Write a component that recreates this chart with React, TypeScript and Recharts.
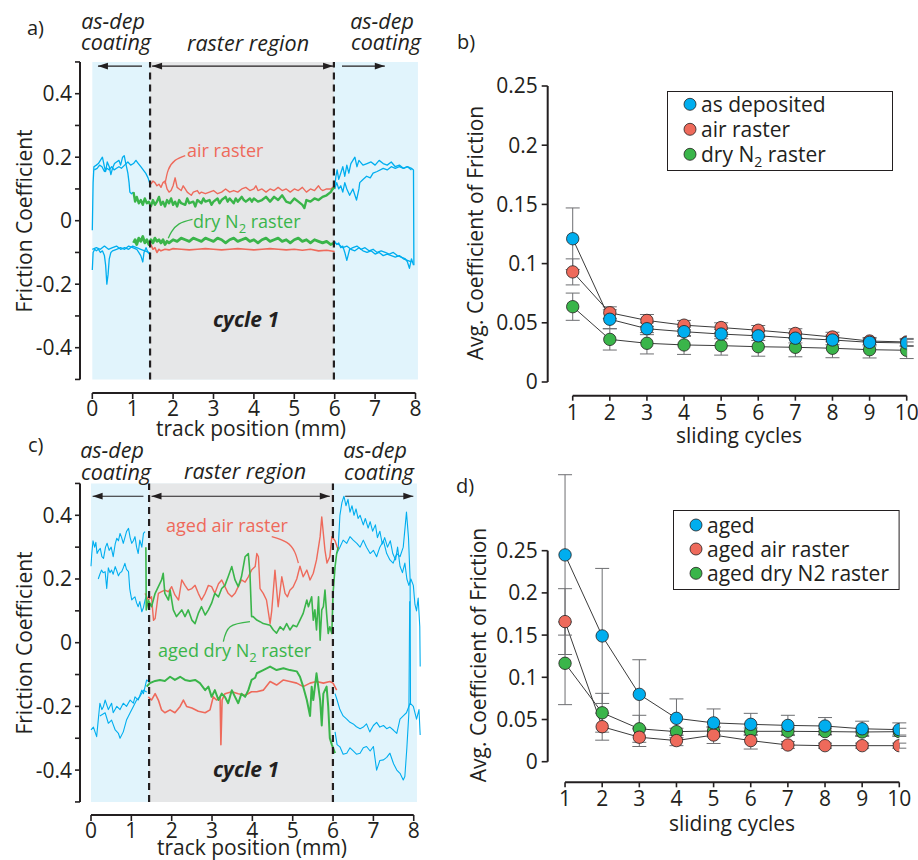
import React from 'react';
import { ComposedChart, Line, XAxis, YAxis, ReferenceArea, ReferenceLine, ErrorBar, Legend } from 'recharts';

const FONT = '"Open Sans", "Noto Sans", sans-serif';
const INK = '#231f20';
const C_BLUE = '#00aeef';
const C_RED = '#ee6a5b';
const C_GREEN = '#3ab54a';
const FILL_BLUE = '#e1f4fc';
const FILL_GRAY = '#e6e7e8';

type Pt = number[];
const toXY = (a: Pt[]) => a.map(([x, y]) => ({ x, y }));

// ---------------- panel a: friction traces ----------------
const aBlueTopL1: Pt[] = [[0,-0.03],[0.02,0.12],[0.04,0.17],[0.1,0.175],[0.15,0.18],[0.2,0.19],[0.25,0.2],[0.3,0.17],[0.33,0.155],[0.37,0.185],[0.42,0.17],[0.46,0.145],[0.5,0.165],[0.55,0.18],[0.6,0.185],[0.66,0.19],[0.7,0.175],[0.75,0.2],[0.79,0.205],[0.83,0.18],[0.88,0.15],[0.91,0.12],[0.93,0.09],[0.97,0.085],[1.02,0.09]];
const aBlueTopL2: Pt[] = [[0.05,0.16],[0.12,0.165],[0.18,0.175],[0.24,0.17],[0.3,0.155],[0.36,0.165],[0.42,0.16],[0.48,0.17],[0.54,0.16],[0.6,0.165],[0.66,0.17],[0.72,0.165],[0.8,0.175],[0.88,0.185],[0.95,0.175],[1.02,0.18],[1.08,0.19],[1.14,0.18],[1.2,0.17],[1.26,0.16],[1.32,0.15],[1.38,0.135],[1.43,0.115]];
const aBlueTopR1: Pt[] = [[6.0,0.105],[6.03,0.14],[6.06,0.16],[6.1,0.13],[6.15,0.15],[6.2,0.17],[6.25,0.14],[6.3,0.175],[6.35,0.15],[6.4,0.18],[6.45,0.19],[6.5,0.2],[6.55,0.17],[6.6,0.19],[6.7,0.175],[6.8,0.18],[6.9,0.185],[7.0,0.175],[7.1,0.19],[7.2,0.18],[7.3,0.175],[7.4,0.185],[7.5,0.17],[7.6,0.175],[7.7,0.165],[7.8,0.17],[7.9,0.165],[7.95,0.16],[7.96,-0.14]];
const aBlueTopR2: Pt[] = [[6.0,0.1],[6.05,0.12],[6.1,0.1],[6.15,0.11],[6.2,0.09],[6.25,0.12],[6.3,0.1],[6.37,0.08],[6.45,0.1],[6.54,0.065],[6.6,0.1],[6.62,0.12],[6.7,0.13],[6.79,0.14],[6.88,0.135],[6.95,0.15],[7.05,0.155],[7.2,0.165],[7.3,0.16],[7.4,0.17],[7.5,0.165],[7.6,0.17],[7.7,0.165],[7.8,0.17],[7.9,0.16]];
const aBlueBotL1: Pt[] = [[0,-0.155],[0.02,-0.1],[0.06,-0.09],[0.1,-0.095],[0.15,-0.09],[0.2,-0.1],[0.25,-0.095],[0.3,-0.11],[0.33,-0.14],[0.36,-0.2],[0.39,-0.17],[0.42,-0.12],[0.46,-0.1],[0.5,-0.095],[0.6,-0.09],[0.7,-0.085],[0.8,-0.09],[0.9,-0.08],[1.0,-0.085],[1.1,-0.09],[1.15,-0.1],[1.2,-0.11],[1.25,-0.13],[1.28,-0.1],[1.33,-0.085],[1.38,-0.1],[1.45,-0.11]];
const aBlueBotL2: Pt[] = [[0,-0.09],[0.1,-0.085],[0.2,-0.09],[0.3,-0.08],[0.4,-0.09],[0.5,-0.085],[0.6,-0.08],[0.7,-0.09],[0.8,-0.085],[0.9,-0.09],[1.0,-0.08],[1.1,-0.085],[1.2,-0.09],[1.3,-0.095],[1.4,-0.1],[1.45,-0.105]];
const aBlueBotR1: Pt[] = [[6.0,-0.065],[6.05,-0.075],[6.1,-0.07],[6.15,-0.085],[6.2,-0.08],[6.25,-0.1],[6.3,-0.125],[6.33,-0.11],[6.37,-0.09],[6.45,-0.085],[6.55,-0.08],[6.65,-0.09],[6.75,-0.085],[6.85,-0.095],[6.95,-0.09],[7.05,-0.1],[7.15,-0.095],[7.25,-0.1],[7.35,-0.105],[7.45,-0.1],[7.55,-0.11],[7.65,-0.115],[7.75,-0.12],[7.8,-0.13],[7.85,-0.15],[7.9,-0.12],[7.95,-0.14]];
const aBlueBotR2: Pt[] = [[6.0,-0.07],[6.1,-0.075],[6.2,-0.085],[6.3,-0.08],[6.4,-0.09],[6.5,-0.095],[6.6,-0.085],[6.7,-0.095],[6.8,-0.1],[6.9,-0.095],[7.0,-0.105],[7.1,-0.1],[7.2,-0.11],[7.3,-0.105],[7.4,-0.11],[7.5,-0.115],[7.6,-0.11],[7.7,-0.12],[7.8,-0.125],[7.9,-0.13]];
const aRedTop: Pt[] = [[1.45,0.115],[1.5,0.125],[1.55,0.12],[1.6,0.11],[1.65,0.115],[1.7,0.105],[1.75,0.12],[1.8,0.125],[1.85,0.1],[1.9,0.09],[1.95,0.095],[2.0,0.11],[2.05,0.135],[2.1,0.105],[2.15,0.1],[2.2,0.095],[2.25,0.11],[2.3,0.1],[2.35,0.09],[2.4,0.085],[2.45,0.08],[2.5,0.09],[2.6,0.095],[2.65,0.085],[2.7,0.09],[2.8,0.085],[2.9,0.09],[3.0,0.095],[3.1,0.085],[3.2,0.09],[3.3,0.1],[3.4,0.09],[3.5,0.095],[3.6,0.09],[3.7,0.1],[3.8,0.105],[3.9,0.095],[4.0,0.1],[4.05,0.11],[4.1,0.095],[4.2,0.1],[4.3,0.09],[4.4,0.1],[4.5,0.095],[4.6,0.105],[4.7,0.095],[4.8,0.1],[4.9,0.09],[5.0,0.1],[5.1,0.095],[5.2,0.105],[5.3,0.09],[5.4,0.1],[5.5,0.095],[5.6,0.11],[5.65,0.1],[5.7,0.095],[5.8,0.1],[5.9,0.1],[6.0,0.11]];
const aRedBot: Pt[] = [[1.45,-0.075],[1.5,-0.09],[1.55,-0.085],[1.6,-0.1],[1.65,-0.09],[1.7,-0.095],[1.8,-0.09],[1.9,-0.092],[2.0,-0.088],[2.2,-0.09],[2.4,-0.092],[2.6,-0.09],[2.8,-0.088],[3.0,-0.09],[3.2,-0.092],[3.4,-0.09],[3.6,-0.088],[3.8,-0.09],[4.0,-0.092],[4.2,-0.09],[4.4,-0.088],[4.6,-0.09],[4.8,-0.092],[5.0,-0.09],[5.2,-0.093],[5.4,-0.09],[5.6,-0.095],[5.8,-0.093],[6.0,-0.097]];
const aGreenTop: Pt[] = [[1.02,0.09],[1.06,0.06],[1.1,0.075],[1.15,0.055],[1.2,0.065],[1.25,0.05],[1.3,0.07],[1.35,0.055],[1.4,0.06],[1.45,0.045],[1.5,0.065],[1.55,0.05],[1.6,0.06],[1.65,0.075],[1.7,0.05],[1.75,0.06],[1.8,0.045],[1.85,0.065],[1.9,0.055],[1.95,0.07],[2.0,0.05],[2.05,0.06],[2.1,0.045],[2.15,0.065],[2.2,0.055],[2.3,0.05],[2.35,0.07],[2.4,0.055],[2.5,0.06],[2.55,0.045],[2.6,0.065],[2.7,0.055],[2.75,0.07],[2.8,0.06],[2.9,0.065],[2.95,0.05],[3.0,0.06],[3.1,0.07],[3.15,0.055],[3.2,0.065],[3.3,0.075],[3.35,0.06],[3.4,0.07],[3.5,0.055],[3.55,0.07],[3.6,0.06],[3.7,0.075],[3.75,0.065],[3.8,0.06],[3.9,0.07],[3.95,0.06],[4.0,0.07],[4.1,0.06],[4.2,0.065],[4.3,0.075],[4.4,0.06],[4.5,0.075],[4.6,0.065],[4.7,0.08],[4.8,0.06],[4.9,0.055],[5.0,0.07],[5.1,0.06],[5.2,0.05],[5.25,0.04],[5.3,0.065],[5.4,0.06],[5.5,0.07],[5.6,0.065],[5.7,0.075],[5.8,0.08],[5.9,0.09],[5.95,0.1],[6.0,0.105]];
const aGreenBot: Pt[] = [[1.02,-0.07],[1.06,-0.06],[1.1,-0.075],[1.15,-0.055],[1.2,-0.065],[1.25,-0.05],[1.3,-0.07],[1.35,-0.06],[1.4,-0.075],[1.45,-0.06],[1.5,-0.07],[1.55,-0.055],[1.6,-0.065],[1.65,-0.06],[1.7,-0.07],[1.75,-0.06],[1.8,-0.075],[1.85,-0.065],[1.9,-0.07],[2.0,-0.06],[2.1,-0.065],[2.2,-0.055],[2.3,-0.06],[2.4,-0.065],[2.5,-0.055],[2.6,-0.06],[2.7,-0.065],[2.8,-0.055],[2.9,-0.06],[3.0,-0.065],[3.1,-0.055],[3.2,-0.06],[3.3,-0.07],[3.4,-0.06],[3.5,-0.055],[3.6,-0.065],[3.7,-0.06],[3.8,-0.055],[3.9,-0.065],[4.0,-0.06],[4.1,-0.07],[4.2,-0.06],[4.3,-0.055],[4.4,-0.065],[4.5,-0.06],[4.6,-0.055],[4.7,-0.065],[4.8,-0.06],[4.9,-0.07],[5.0,-0.06],[5.1,-0.055],[5.2,-0.065],[5.3,-0.06],[5.4,-0.07],[5.5,-0.06],[5.6,-0.065],[5.7,-0.07],[5.8,-0.065],[5.9,-0.075],[6.0,-0.07]];
const aAirLeader: Pt[] = [[2.3,0.205],[2.05,0.19],[1.88,0.16],[1.8,0.115]];
const aN2Leader: Pt[] = [[2.48,0.004],[2.15,-0.01],[1.96,-0.035],[1.88,-0.055]];

// ---------------- panel c: aged friction traces ----------------
const cBlueTopL1: Pt[] = [[0,0.24],[0.02,0.28],[0.05,0.32],[0.09,0.3],[0.12,0.315],[0.15,0.28],[0.19,0.29],[0.23,0.296],[0.27,0.27],[0.31,0.265],[0.36,0.3],[0.4,0.312],[0.45,0.29],[0.5,0.3],[0.55,0.27],[0.6,0.31],[0.64,0.328],[0.68,0.32],[0.72,0.343],[0.76,0.33],[0.8,0.312],[0.84,0.33],[0.88,0.349],[0.93,0.359],[0.97,0.33],[1.01,0.312],[1.05,0.32],[1.09,0.333],[1.13,0.3],[1.17,0.28],[1.21,0.322],[1.26,0.3],[1.3,0.343],[1.34,0.349]];
const cBlueTopL2: Pt[] = [[0.18,0.2],[0.22,0.215],[0.26,0.228],[0.3,0.22],[0.35,0.223],[0.39,0.17],[0.43,0.235],[0.47,0.22],[0.51,0.228],[0.55,0.215],[0.6,0.239],[0.64,0.225],[0.68,0.21],[0.72,0.22],[0.76,0.223],[0.8,0.235],[0.84,0.249],[0.88,0.23],[0.93,0.223],[0.96,0.17],[0.98,0.155],[1.01,0.134],[1.05,0.14],[1.09,0.144],[1.13,0.125],[1.17,0.113],[1.21,0.129],[1.26,0.097],[1.3,0.11],[1.34,0.134],[1.38,0.15]];
const cBlueTopR1: Pt[] = [[6.13,0.3],[6.17,0.4],[6.22,0.44],[6.27,0.46],[6.32,0.43],[6.37,0.45],[6.42,0.41],[6.47,0.43],[6.52,0.4],[6.57,0.42],[6.62,0.39],[6.67,0.4],[6.75,0.37],[6.8,0.39],[6.87,0.36],[6.92,0.38],[6.98,0.35],[7.05,0.37],[7.1,0.33],[7.16,0.35],[7.22,0.31],[7.28,0.33],[7.35,0.3],[7.42,0.32],[7.48,0.28],[7.55,0.26],[7.6,0.3],[7.66,0.24],[7.72,0.22],[7.78,0.25],[7.83,0.2],[7.88,0.18],[7.93,0.2],[7.99,0.18],[8.03,0.12],[8.07,0.1],[8.11,0.14],[8.15,0.05],[8.16,-0.075]];
const cBlueTopR2: Pt[] = [[6.09,0.28],[6.17,0.3],[6.25,0.322],[6.34,0.312],[6.42,0.333],[6.5,0.322],[6.59,0.312],[6.67,0.3],[6.75,0.322],[6.83,0.3],[6.92,0.28],[7.0,0.29],[7.08,0.27],[7.16,0.3],[7.25,0.32],[7.33,0.28],[7.41,0.26],[7.49,0.25],[7.58,0.28],[7.66,0.27],[7.74,0.3],[7.82,0.41],[7.87,0.33],[7.91,0.2],[7.92,-0.19]];
const cBlueBotL1: Pt[] = [[0,-0.274],[0.06,-0.265],[0.14,-0.295],[0.22,-0.19],[0.27,-0.21],[0.31,-0.2],[0.35,-0.18],[0.43,-0.21],[0.51,-0.19],[0.55,-0.22],[0.64,-0.2],[0.72,-0.21],[0.8,-0.19],[0.88,-0.2],[0.97,-0.18],[1.05,-0.19],[1.09,-0.17],[1.17,-0.18],[1.26,-0.149],[1.3,-0.16],[1.38,-0.117],[1.45,-0.125]];
const cBlueBotL2: Pt[] = [[0.22,-0.23],[0.35,-0.22],[0.43,-0.253],[0.51,-0.243],[0.6,-0.274],[0.68,-0.285],[0.72,-0.3],[0.8,-0.28],[0.88,-0.243],[0.97,-0.22],[1.05,-0.2],[1.13,-0.18],[1.21,-0.17],[1.3,-0.149],[1.38,-0.155]];
const cBlueBotR1: Pt[] = [[6.05,-0.16],[6.1,-0.18],[6.17,-0.21],[6.25,-0.23],[6.34,-0.24],[6.42,-0.25],[6.5,-0.255],[6.58,-0.264],[6.67,-0.27],[6.75,-0.265],[6.83,-0.255],[6.91,-0.28],[7.0,-0.26],[7.08,-0.25],[7.16,-0.265],[7.25,-0.26],[7.33,-0.27],[7.41,-0.265],[7.5,-0.275],[7.58,-0.285],[7.66,-0.24],[7.74,-0.23],[7.82,-0.22],[7.91,-0.19],[7.99,-0.2],[8.07,-0.24],[8.13,-0.21],[8.16,-0.29]];
const cBlueBotR2: Pt[] = [[6.05,-0.28],[6.1,-0.32],[6.17,-0.327],[6.25,-0.35],[6.34,-0.347],[6.42,-0.33],[6.5,-0.34],[6.58,-0.35],[6.67,-0.347],[6.75,-0.33],[6.83,-0.326],[6.92,-0.34],[7.0,-0.326],[7.08,-0.4],[7.16,-0.37],[7.25,-0.368],[7.33,-0.36],[7.41,-0.347],[7.5,-0.38],[7.58,-0.4],[7.66,-0.41],[7.74,-0.431],[7.78,-0.42],[7.83,-0.33],[7.88,-0.22],[7.9,0.13]];
const cRedTop: Pt[] = [[1.34,0.155],[1.42,0.134],[1.5,0.144],[1.55,0.07],[1.59,0.076],[1.67,0.155],[1.75,0.16],[1.83,0.165],[1.92,0.16],[2.0,0.176],[2.08,0.15],[2.17,0.134],[2.25,0.197],[2.33,0.18],[2.41,0.165],[2.5,0.17],[2.58,0.18],[2.66,0.155],[2.74,0.134],[2.83,0.155],[2.91,0.18],[2.99,0.176],[3.07,0.155],[3.16,0.185],[3.24,0.197],[3.32,0.176],[3.4,0.155],[3.49,0.144],[3.57,0.155],[3.65,0.176],[3.73,0.197],[3.82,0.19],[3.9,0.207],[3.98,0.228],[4.07,0.239],[4.11,0.28],[4.15,0.27],[4.19,0.17],[4.27,0.155],[4.35,0.134],[4.44,0.06],[4.48,0.1],[4.56,0.228],[4.64,0.113],[4.73,0.207],[4.81,0.155],[4.87,0.144],[4.93,0.165],[5.01,0.175],[5.1,0.2],[5.18,0.24],[5.26,0.207],[5.35,0.228],[5.43,0.197],[5.51,0.218],[5.59,0.26],[5.68,0.333],[5.72,0.395],[5.8,0.29],[5.85,0.25],[5.92,0.27],[5.97,0.333],[6.05,0.32],[6.13,0.29]];
const cRedBot: Pt[] = [[1.42,-0.17],[1.5,-0.18],[1.59,-0.16],[1.67,-0.18],[1.75,-0.211],[1.83,-0.22],[1.96,-0.211],[2.08,-0.22],[2.21,-0.2],[2.29,-0.18],[2.37,-0.2],[2.5,-0.205],[2.66,-0.215],[2.83,-0.22],[2.95,-0.211],[3.03,-0.17],[3.11,-0.18],[3.2,-0.17],[3.22,-0.32],[3.25,-0.18],[3.32,-0.16],[3.49,-0.154],[3.65,-0.16],[3.82,-0.165],[3.98,-0.154],[4.11,-0.154],[4.27,-0.149],[4.44,-0.122],[4.6,-0.133],[4.77,-0.117],[4.93,-0.122],[5.1,-0.127],[5.26,-0.138],[5.43,-0.127],[5.59,-0.122],[5.76,-0.127],[5.92,-0.122],[6.0,-0.127],[6.09,-0.149]];
const cGreenTop: Pt[] = [[1.36,0.3],[1.37,0.103],[1.42,0.134],[1.5,0.113],[1.59,0.155],[1.67,0.176],[1.75,0.197],[1.79,0.218],[1.83,0.155],[1.92,0.134],[1.96,0.165],[2.04,0.103],[2.12,0.082],[2.25,0.103],[2.33,0.082],[2.41,0.103],[2.5,0.071],[2.58,0.06],[2.66,0.092],[2.74,0.113],[2.83,0.087],[2.91,0.103],[2.99,0.124],[3.07,0.155],[3.16,0.144],[3.24,0.17],[3.32,0.18],[3.4,0.207],[3.49,0.239],[3.57,0.197],[3.65,0.176],[3.73,0.207],[3.82,0.27],[3.9,0.28],[3.94,0.218],[3.98,0.082],[4.02,0.082],[4.11,0.071],[4.19,0.066],[4.27,0.06],[4.44,0.055],[4.52,0.04],[4.6,0.03],[4.69,0.05],[4.77,0.04],[4.85,0.06],[4.93,0.04],[5.01,0.055],[5.1,0.05],[5.18,0.071],[5.26,0.092],[5.35,0.134],[5.39,0.113],[5.47,0.144],[5.51,0.071],[5.55,0.103],[5.59,0.04],[5.64,0.144],[5.68,0.008],[5.72,0.103],[5.76,0.113],[5.8,0.165],[5.84,0.092],[5.88,0.029],[5.92,0.05],[5.97,0.029],[6.0,0.155],[6.05,0.239],[6.09,0.28],[6.13,0.3]];
const cGreenBot: Pt[] = [[1.38,-0.138],[1.46,-0.127],[1.59,-0.12],[1.71,-0.117],[1.83,-0.12],[1.96,-0.107],[2.08,-0.117],[2.21,-0.107],[2.33,-0.117],[2.45,-0.12],[2.58,-0.117],[2.7,-0.127],[2.83,-0.149],[2.91,-0.138],[2.99,-0.17],[3.07,-0.149],[3.16,-0.18],[3.24,-0.16],[3.32,-0.17],[3.4,-0.19],[3.49,-0.149],[3.57,-0.17],[3.65,-0.19],[3.73,-0.16],[3.82,-0.17],[3.9,-0.149],[3.98,-0.117],[4.07,-0.11],[4.11,-0.096],[4.27,-0.086],[4.44,-0.075],[4.6,-0.086],[4.77,-0.08],[4.93,-0.086],[5.1,-0.09],[5.18,-0.107],[5.26,-0.138],[5.35,-0.18],[5.43,-0.23],[5.47,-0.138],[5.51,-0.18],[5.59,-0.096],[5.68,-0.18],[5.72,-0.26],[5.76,-0.16],[5.84,-0.138],[5.88,-0.2],[5.92,-0.3],[5.97,-0.32],[6.05,-0.347]];
const cAirLeader: Pt[] = [[4.48,0.333],[4.85,0.315],[5.05,0.285],[5.14,0.25]];
const cN2Leader: Pt[] = [[3.28,0.003],[3.45,0.05],[3.94,0.066]];

// ---------------- panels b and d: averaged friction per cycle ----------------
const CYCLES = [1, 2, 3, 4, 5, 6, 7, 8, 9, 10];
const bAsDep = [0.121, 0.053, 0.045, 0.0425, 0.0405, 0.039, 0.037, 0.0355, 0.0335, 0.033];
const bAsDepErr = [0.026, 0.008, 0.005, 0.004, 0.004, 0.004, 0.004, 0.004, 0.003, 0.003];
const bAir = [0.093, 0.0585, 0.052, 0.048, 0.046, 0.0437, 0.041, 0.038, 0.0346, 0.0338];
const bAirErr = [0.011, 0.005, 0.005, 0.004, 0.004, 0.004, 0.004, 0.004, 0.003, 0.003];
const bN2 = [0.0636, 0.036, 0.0327, 0.0313, 0.0307, 0.0298, 0.0293, 0.0285, 0.0273, 0.0268];
const bN2Err = [0.0115, 0.009, 0.009, 0.008, 0.008, 0.008, 0.008, 0.008, 0.007, 0.007];

const dAged = [0.245, 0.149, 0.0798, 0.0514, 0.046, 0.0443, 0.043, 0.0423, 0.039, 0.038];
const dAgedErr = [0.095, 0.08, 0.041, 0.023, 0.0165, 0.013, 0.012, 0.01, 0.009, 0.008];
const dAir = [0.166, 0.0415, 0.029, 0.025, 0.0316, 0.025, 0.0198, 0.019, 0.019, 0.019];
const dAirErr = [0.039, 0.016, 0.011, 0.006, 0.01, 0.01, 0.004, 0.003, 0.003, 0.003];
const dN2 = [0.1166, 0.058, 0.039, 0.0356, 0.0364, 0.036, 0.036, 0.0357, 0.0352, 0.0356];
const dN2Err = [0.049, 0.023, 0.016, 0.004, 0.004, 0.004, 0.004, 0.004, 0.004, 0.004];

const TRACK_TICKS = [0, 1, 2, 3, 4, 5, 6, 7, 8];
const FRICTION_TICKS = [-0.5, -0.4, -0.3, -0.2, -0.1, 0, 0.1, 0.2, 0.3, 0.4, 0.5];
const FRICTION_LABELED = [-0.4, -0.2, 0, 0.2, 0.4];
const AVG_TICKS = [0, 0.05, 0.1, 0.15, 0.2, 0.25];

const fmtFriction = (v: number) =>
  FRICTION_LABELED.some((t) => Math.abs(t - v) < 1e-6) ? String(Math.round(v * 10) / 10) : '';
const fmtAvg = (v: number) => String(Math.round(v * 100) / 100);

const series = (ys: number[], es: number[]) => CYCLES.map((x, i) => ({ x, y: ys[i], e: es[i] }));

const TICK_FS = 21;
const TITLE_FS = 21;

function arrowShape(kind: 'start' | 'end' | 'both') {
  return (p: any) => {
    const { x1, y1, x2, y2 } = p;
    if (![x1, y1, x2, y2].every((v) => Number.isFinite(v))) return <g />;
    const dx = x2 - x1, dy = y2 - y1;
    const len = Math.hypot(dx, dy) || 1;
    const ux = dx / len, uy = dy / len;
    const L = 10, W = 3.4;
    const head = (tx: number, ty: number, vx: number, vy: number) => {
      const bx = tx - vx * L, by = ty - vy * L;
      return `${tx},${ty} ${bx - vy * W},${by + vx * W} ${bx + vy * W},${by - vx * W}`;
    };
    return (
      <g>
        <line x1={x1} y1={y1} x2={x2} y2={y2} stroke={INK} strokeWidth={1.1} />
        {(kind === 'start' || kind === 'both') && <polygon points={head(x1, y1, -ux, -uy)} fill={INK} />}
        {(kind === 'end' || kind === 'both') && <polygon points={head(x2, y2, ux, uy)} fill={INK} />}
      </g>
    );
  };
}

type Trace = { data: Pt[]; color: string; w: number };
type Arrow = { x1: number; x2: number; y: number; kind: 'start' | 'end' | 'both' };

function TracePanel(props: {
  left: number; top: number; width: number; height: number;
  margin: { top: number; right: number; bottom: number; left: number };
  xDom: [number, number]; yDom: [number, number];
  blue: [number, number]; gray: [number, number];
  traces: Trace[]; leaders: Trace[]; arrows: Arrow[];
}) {
  const { xDom, yDom, blue, gray } = props;
  const tickStyle = { fill: INK, fontSize: TICK_FS, fontFamily: FONT };
  return (
    <div style={{ position: 'absolute', left: props.left, top: props.top }}>
      <ComposedChart width={props.width} height={props.height} margin={props.margin}>
        <XAxis type="number" dataKey="x" domain={xDom} allowDataOverflow ticks={TRACK_TICKS} interval={0}
          axisLine={false} tickSize={6} tickMargin={2} height={30}
          tickLine={{ stroke: INK, strokeWidth: 1.6 }} tick={tickStyle} />
        <YAxis type="number" domain={yDom} allowDataOverflow ticks={FRICTION_TICKS} interval={0}
          tickFormatter={fmtFriction} axisLine={false} tickSize={5} tickMargin={3} width={50}
          tickLine={{ stroke: INK, strokeWidth: 1.6 }} tick={tickStyle} />
        <ReferenceArea x1={blue[0]} x2={blue[1]} y1={-0.5} y2={0.5} fill={FILL_BLUE} fillOpacity={1} stroke="none" ifOverflow="visible" />
        <ReferenceArea x1={gray[0]} x2={gray[1]} y1={-0.5} y2={0.5} fill={FILL_GRAY} fillOpacity={1} stroke="none" ifOverflow="visible" />
        {props.traces.map((t, i) => (
          <Line key={'t' + i} data={toXY(t.data)} dataKey="y" type="linear" stroke={t.color} strokeWidth={t.w}
            strokeLinejoin="round" dot={false} activeDot={false} isAnimationActive={false} legendType="none" />
        ))}
        {props.leaders.map((t, i) => (
          <Line key={'l' + i} data={toXY(t.data)} dataKey="y" type="natural" stroke={t.color} strokeWidth={t.w}
            dot={false} activeDot={false} isAnimationActive={false} legendType="none" />
        ))}
        {[gray[0], gray[1]].map((x, i) => (
          <ReferenceLine key={'d' + i} segment={[{ x, y: -0.5 }, { x, y: 0.5 }]} stroke={INK} strokeWidth={2.2}
            strokeDasharray="7 5" ifOverflow="visible" />
        ))}
        {props.arrows.map((a, i) => (
          <ReferenceLine key={'a' + i} segment={[{ x: a.x1, y: a.y }, { x: a.x2, y: a.y }]} ifOverflow="visible"
            shape={arrowShape(a.kind)} />
        ))}
        <ReferenceLine segment={[{ x: xDom[0], y: -0.5 }, { x: xDom[0], y: 0.5 }]} stroke={INK} strokeWidth={2} ifOverflow="visible" />
        <ReferenceLine segment={[{ x: 0, y: yDom[0] }, { x: 8, y: yDom[0] }]} stroke={INK} strokeWidth={2} ifOverflow="visible" />
      </ComposedChart>
    </div>
  );
}

type Item = { name: string; fill: string; sub?: boolean };

function LegendBox({ items, w, h, rows }: { items: Item[]; w: number; h: number; rows: number[] }) {
  return (
    <svg width={w} height={h} style={{ display: 'block', overflow: 'visible' }}>
      <rect x={0.5} y={0.5} width={w - 1} height={h - 1} fill="#fff" stroke={INK} strokeWidth={1} />
      {items.map((it, i) => (
        <g key={it.name}>
          <circle cx={23} cy={rows[i]} r={6} fill={it.fill} stroke={INK} strokeWidth={0.8} />
          <text x={34} y={rows[i] + 7.5} fontSize={21} fontFamily={FONT} fill={INK}>
            {it.sub ? (
              <>
                {it.name.replace(' N2 raster', ' N')}
                <tspan dy={5} fontSize={14}>2</tspan>
                <tspan dy={-5}> raster</tspan>
              </>
            ) : it.name}
          </text>
        </g>
      ))}
    </svg>
  );
}

function CyclePanel(props: {
  left: number; top: number; width: number; height: number;
  margin: { top: number; right: number; bottom: number; left: number };
  xMin: number; yDom: [number, number];
  lines: { name: string; fill: string; data: { x: number; y: number; e: number }[] }[];
  items: Item[]; legend: { left: number; top: number; w: number; h: number; rows: number[] };
}) {
  const tickStyle = { fill: INK, fontSize: TICK_FS, fontFamily: FONT };
  const { legend } = props;
  return (
    <div style={{ position: 'absolute', left: props.left, top: props.top }}>
      <ComposedChart width={props.width} height={props.height} margin={props.margin}>
        <XAxis type="number" dataKey="x" domain={[props.xMin, 10]} allowDataOverflow ticks={CYCLES} interval={0}
          axisLine={false} tickSize={5} tickMargin={4} height={30}
          tickLine={{ stroke: INK, strokeWidth: 1.6 }} tick={tickStyle} />
        <YAxis type="number" domain={props.yDom} allowDataOverflow ticks={AVG_TICKS} interval={0}
          tickFormatter={fmtAvg} axisLine={false} tickSize={6} tickMargin={4} width={50}
          tickLine={{ stroke: INK, strokeWidth: 1.6 }} tick={tickStyle} />
        <ReferenceLine segment={[{ x: props.xMin, y: 0 }, { x: props.xMin, y: 0.25 }]} stroke={INK} strokeWidth={2} ifOverflow="visible" />
        <ReferenceLine segment={[{ x: 1, y: props.yDom[0] }, { x: 10, y: props.yDom[0] }]} stroke={INK} strokeWidth={2} ifOverflow="visible" />
        {props.lines.map((s) => (
          <Line key={s.name} name={s.name} data={s.data} dataKey="y" type="linear" stroke="#3b3b3b" strokeWidth={1}
            isAnimationActive={false} activeDot={false}
            dot={(p: any) => (
              <circle key={s.name + p.index} cx={p.cx} cy={p.cy} r={6.2} fill={s.fill} stroke={INK} strokeWidth={0.8} />
            )}>
            <ErrorBar dataKey="e" direction="y" width={7} stroke="#6d6e71" strokeWidth={1} />
          </Line>
        ))}
        <Legend layout="horizontal" verticalAlign="middle" align="center"
          wrapperStyle={{ left: legend.left, top: legend.top, width: legend.w, height: legend.h }}
          content={() => <LegendBox items={props.items} w={legend.w} h={legend.h} rows={legend.rows} />} />
      </ComposedChart>
    </div>
  );
}

function N2({ pre, post }: { pre: string; post: string }) {
  return (
    <>
      {pre}N<tspan dy={5} fontSize={13}>2</tspan><tspan dy={-5}>{post}</tspan>
    </>
  );
}

function Overlay() {
  const t = { fontFamily: FONT, fill: INK } as const;
  const it = { ...t, fontStyle: 'italic', fontSize: 21.5 } as const;
  return (
    <svg width={918} height={860} style={{ position: 'absolute', left: 0, top: 0, pointerEvents: 'none' }}>
      <text x={27} y={35} fontSize={20} {...t}>a)</text>
      <text x={457} y={49} fontSize={20} {...t}>b)</text>
      <text x={28} y={452} fontSize={20} {...t}>c)</text>
      <text x={456} y={493} fontSize={20} {...t}>d)</text>

      <text x={113} y={29} textAnchor="middle" {...it}>as-dep</text>
      <text x={116} y={50} textAnchor="middle" {...it}>coating</text>
      <text x={248} y={51} textAnchor="middle" {...it}>raster region</text>
      <text x={382} y={29} textAnchor="middle" {...it}>as-dep</text>
      <text x={386} y={50} textAnchor="middle" {...it}>coating</text>

      <text x={112} y={458} textAnchor="middle" {...it}>as-dep</text>
      <text x={116} y={480} textAnchor="middle" {...it}>coating</text>
      <text x={245} y={479} textAnchor="middle" {...it}>raster region</text>
      <text x={375} y={458} textAnchor="middle" {...it}>as-dep</text>
      <text x={379} y={480} textAnchor="middle" {...it}>coating</text>

      <text x={187} y={157} fontSize={18} fontFamily={FONT} fill={C_RED}>air raster</text>
      <text x={193} y={228} fontSize={18} fontFamily={FONT} fill={C_GREEN}><N2 pre="dry " post=" raster" /></text>
      <text x={246} y={327} textAnchor="middle" fontSize={21} fontWeight={700} fontStyle="italic" {...t}>cycle 1</text>

      <text x={166} y={532} fontSize={18} fontFamily={FONT} fill={C_RED}>aged air raster</text>
      <text x={158} y={657} fontSize={18} fontFamily={FONT} fill={C_GREEN}><N2 pre="aged dry " post=" raster" /></text>
      <text x={246} y={777} textAnchor="middle" fontSize={21} fontWeight={700} fontStyle="italic" {...t}>cycle 1</text>

      <text transform="translate(32,221) rotate(-90)" textAnchor="middle" fontSize={TITLE_FS} {...t}>Friction Coefficient</text>
      <text transform="translate(32,643) rotate(-90)" textAnchor="middle" fontSize={TITLE_FS} {...t}>Friction Coefficient</text>
      <text transform="translate(483,233) rotate(-90)" textAnchor="middle" fontSize={TITLE_FS} {...t}>Avg. Coefficient of Friction</text>
      <text transform="translate(486,655) rotate(-90)" textAnchor="middle" fontSize={TITLE_FS} {...t}>Avg. Coefficient of Friction</text>

      <text x={251} y={436} textAnchor="middle" fontSize={TITLE_FS} {...t}>track position (mm)</text>
      <text x={252} y={855} textAnchor="middle" fontSize={TITLE_FS} {...t}>track position (mm)</text>
      <text x={739} y={443} textAnchor="middle" fontSize={TITLE_FS} {...t}>sliding cycles</text>
      <text x={732} y={831} textAnchor="middle" fontSize={TITLE_FS} {...t}>sliding cycles</text>
    </svg>
  );
}

const B_ITEMS: Item[] = [
  { name: 'as deposited', fill: C_BLUE },
  { name: 'air raster', fill: C_RED },
  { name: 'dry N2 raster', fill: C_GREEN, sub: true },
];
const D_ITEMS: Item[] = [
  { name: 'aged', fill: C_BLUE },
  { name: 'aged air raster', fill: C_RED },
  { name: 'aged dry N2 raster', fill: C_GREEN },
];

export default function App() {
  const aTraces: Trace[] = [
    { data: aBlueTopL2, color: C_BLUE, w: 1.3 },
    { data: aBlueTopL1, color: C_BLUE, w: 1.3 },
    { data: aBlueTopR2, color: C_BLUE, w: 1.3 },
    { data: aBlueTopR1, color: C_BLUE, w: 1.3 },
    { data: aBlueBotL2, color: C_BLUE, w: 1.3 },
    { data: aBlueBotL1, color: C_BLUE, w: 1.3 },
    { data: aBlueBotR2, color: C_BLUE, w: 1.3 },
    { data: aBlueBotR1, color: C_BLUE, w: 1.3 },
    { data: aRedTop, color: C_RED, w: 1.4 },
    { data: aRedBot, color: C_RED, w: 1.6 },
    { data: aGreenTop, color: C_GREEN, w: 2.4 },
    { data: aGreenBot, color: C_GREEN, w: 2.8 },
  ];
  const cTraces: Trace[] = [
    { data: cBlueTopL1, color: C_BLUE, w: 1.1 },
    { data: cBlueTopL2, color: C_BLUE, w: 1.1 },
    { data: cBlueTopR1, color: C_BLUE, w: 1.1 },
    { data: cBlueTopR2, color: C_BLUE, w: 1.1 },
    { data: cBlueBotL1, color: C_BLUE, w: 1.1 },
    { data: cBlueBotL2, color: C_BLUE, w: 1.1 },
    { data: cBlueBotR1, color: C_BLUE, w: 1.1 },
    { data: cBlueBotR2, color: C_BLUE, w: 1.1 },
    { data: cRedTop, color: C_RED, w: 1.4 },
    { data: cRedBot, color: C_RED, w: 1.6 },
    { data: cGreenTop, color: C_GREEN, w: 1.6 },
    { data: cGreenBot, color: C_GREEN, w: 2.0 },
  ];
  return (
    <div style={{ position: 'absolute', left: 0, top: 0, width: 918, height: 860, background: '#fff', overflow: 'hidden' }}>
      <TracePanel left={0} top={0} width={440} height={440}
        margin={{ top: 61.95, right: 20, bottom: 17, left: 30 }}
        xDom={[-0.3045, 8.1114]} yDom={[-0.5427, 0.5]}
        blue={[0, 8.06]} gray={[1.43, 5.98]}
        traces={aTraces}
        leaders={[{ data: aAirLeader, color: C_RED, w: 1.3 }, { data: aN2Leader, color: C_GREEN, w: 1.3 }]}
        arrows={[{ x1: 0.14, x2: 1.23, y: 0.487, kind: 'start' }, { x1: 1.48, x2: 5.96, y: 0.487, kind: 'both' }, { x1: 6.18, x2: 7.24, y: 0.487, kind: 'end' }]} />
      <TracePanel left={0} top={440} width={440} height={420}
        margin={{ top: 43.45, right: 18, bottom: 15, left: 30 }}
        xDom={[-0.2727, 8.205]} yDom={[-0.541, 0.5]}
        blue={[0, 8.08]} gray={[1.44, 5.997]}
        traces={cTraces}
        leaders={[{ data: cAirLeader, color: C_RED, w: 1.3 }, { data: cN2Leader, color: C_GREEN, w: 1.3 }]}
        arrows={[{ x1: 0.04, x2: 1.3, y: 0.46, kind: 'start' }, { x1: 1.5, x2: 5.92, y: 0.46, kind: 'both' }, { x1: 6.3, x2: 7.99, y: 0.46, kind: 'end' }]} />
      <CyclePanel left={440} top={0} width={478} height={440}
        margin={{ top: 86, right: 11.3, bottom: 14.3, left: 57.7 }}
        xMin={0.326} yDom={[-0.01157, 0.25]}
        lines={[
          { name: 'air raster', fill: C_RED, data: series(bAir, bAirErr) },
          { name: 'dry N2 raster', fill: C_GREEN, data: series(bN2, bN2Err) },
          { name: 'as deposited', fill: C_BLUE, data: series(bAsDep, bAsDepErr) },
        ]}
        items={B_ITEMS}
        legend={{ left: 226.7, top: 90.7, w: 226, h: 80, rows: [13.3, 38.3, 63.3] }} />
      <CyclePanel left={440} top={440} width={478} height={420}
        margin={{ top: 30, right: 18.7, bottom: 47.7, left: 57.7 }}
        xMin={0.533} yDom={[-0.0244, 0.3456]}
        lines={[
          { name: 'aged dry N2 raster', fill: C_GREEN, data: series(dN2, dN2Err) },
          { name: 'aged air raster', fill: C_RED, data: series(dAir, dAirErr) },
          { name: 'aged', fill: C_BLUE, data: series(dAged, dAgedErr) },
        ]}
        items={D_ITEMS}
        legend={{ left: 232.7, top: 70, w: 226.6, h: 80, rows: [15, 39, 63.3] }} />
      <Overlay />
    </div>
  );
}
